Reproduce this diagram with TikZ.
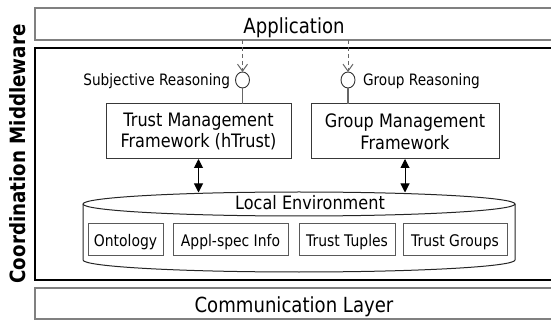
\documentclass[tikz,border=0pt]{standalone}
\usepackage{fontspec}
\setmainfont{DejaVu Sans}[FakeStretch=0.87]
\usetikzlibrary{arrows.meta,shapes.geometric}
\begin{document}
\begin{tikzpicture}[x=1pt,y=1pt,
  every node/.style={inner sep=0pt, outer sep=0pt},
  layerbox/.style={draw=black!50, line width=1.4pt, minimum width=518pt, font=\fontsize{20.8}{25}\selectfont, text height=18.6pt, text depth=0pt},
  mwbox/.style={draw=black, line width=2.6pt, minimum width=518pt, minimum height=232pt},
  fwbox/.style={draw=black!78, line width=1pt, fill=white, minimum height=55pt, align=center, font=\fontsize{18.5}{21.7}\selectfont},
  databox/.style={draw=black!65, line width=1pt, fill=white, minimum height=32pt, font=\fontsize{16}{19}\selectfont, text height=12.8pt, text depth=0pt},
  port/.style={ellipse, draw=black!80, line width=0.9pt, fill=white, minimum width=14pt, minimum height=16pt},
  portlabel/.style={font=\fontsize{15.7}{19}\selectfont},
  reqline/.style={draw=black!60, line width=1pt, dash pattern=on 4pt off 3pt, -{Straight Barb[length=7pt,width=10pt]}},
  portline/.style={draw=black!60, line width=1.2pt},
  dbl/.style={draw=black, line width=1pt, {Triangle[length=9pt,width=9pt]}-{Triangle[length=9pt,width=9pt]}},
  cyl/.style={draw=black!85, line width=1pt}
]
\useasboundingbox (0,0) rectangle (551,-320);
\clip (0,0) rectangle (551,-320);

% layers
\node[layerbox, minimum height=32pt] (app) at (294,-24) {Application};
\node[mwbox] (mw) at (294,-164) {};
\node[layerbox, minimum height=31pt] (comm) at (294,-303.5) {Communication Layer};
\node[rotate=90, anchor=base, font=\bfseries\fontsize{21}{25}\selectfont] (cmlabel) at (25,-154) {Coordination Middleware};

% cylinder (local environment)
\fill[white] (83,-204) -- (83,-260) arc[start angle=180,end angle=360,x radius=216pt,y radius=12pt] -- (515,-204) arc[start angle=0,end angle=180,x radius=216pt,y radius=12pt] -- cycle;
\draw[cyl] (83,-204) -- (83,-260) arc[start angle=180,end angle=360,x radius=216pt,y radius=12pt] -- (515,-204);
\draw[cyl] (299,-204) ellipse[x radius=216pt, y radius=12pt];
\node[anchor=base, font=\fontsize{18.5}{22}\selectfont] (envlabel) at (310,-210) {Local Environment};
\coordinate (envtop) at (299,-192.5);

\node[databox, minimum width=75pt] (onto) at (125.5,-240) {Ontology};
\node[databox, minimum width=115pt] (appl) at (230.5,-240) {Appl-spec Info};
\node[databox, minimum width=96pt] (tup) at (347,-240) {Trust Tuples};
\node[databox, minimum width=104pt] (grp) at (455,-240) {Trust Groups};

% frameworks
\node[fwbox, minimum width=185pt] (tmf) at (198.5,-131.5) {Trust Management\\Framework (hTrust)};
\node[fwbox, minimum width=188pt] (gmf) at (405,-131.5) {Group Management\\Framework};

% ports
\node[port] (sr) at (242.5,-80) {};
\node[port] (gr) at (348,-80) {};
\node[portlabel, anchor=base east] (srl) at (230,-85.6) {Subjective Reasoning};
\node[portlabel, anchor=base west] (grl) at (363,-85.6) {Group Reasoning};

% connectors
\draw[reqline] (sr.north |- app.south) -- (sr.north);
\draw[reqline] (gr.north |- app.south) -- (gr.north);
\draw[portline] (sr.south) -- (sr.south |- tmf.north);
\draw[portline] (gr.south) -- (gr.south |- gmf.north);
\draw[dbl] (tmf.south) -- (tmf.south |- envtop);
\draw[dbl] (gmf.south) -- (gmf.south |- envtop);
\end{tikzpicture}
\end{document}
